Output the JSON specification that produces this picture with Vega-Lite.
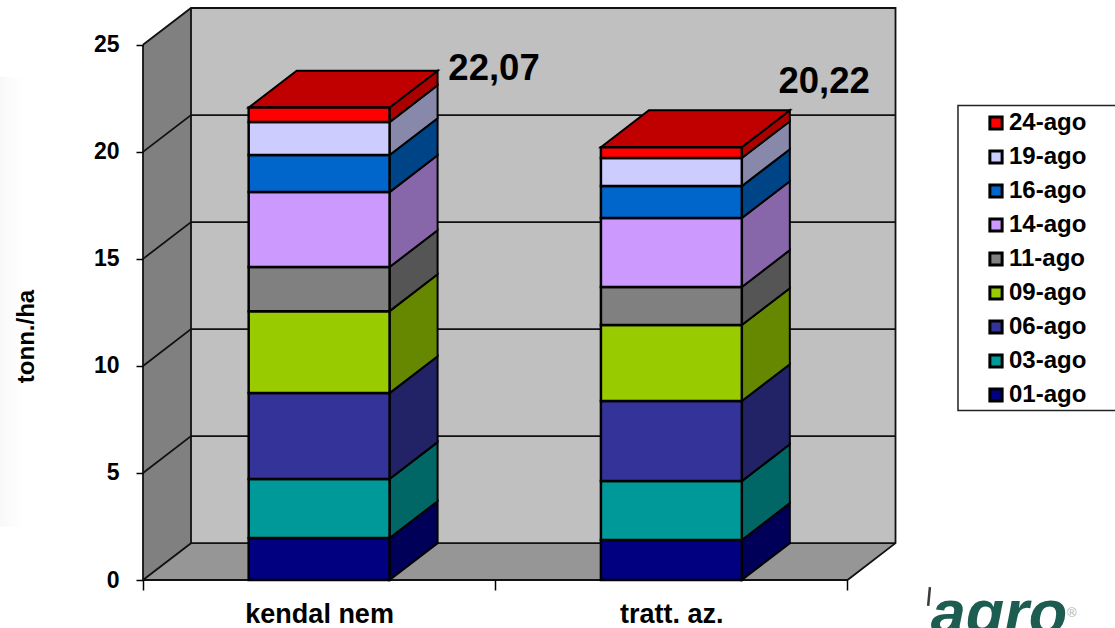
{
  "$schema": "https://vega.github.io/schema/vega-lite/v6.json",
  "width": 753,
  "height": 572,
  "autosize": "none",
  "padding": {"left": 143, "top": 8, "right": 219, "bottom": 48},
  "background": "white",
  "view": {"stroke": null},
  "config": {"font": "Liberation Sans"},
  "datasets": {
    "harvest": [
      {"variety": "kendal nem", "date": "01-ago", "tons": 1.96},
      {"variety": "kendal nem", "date": "03-ago", "tons": 2.76},
      {"variety": "kendal nem", "date": "06-ago", "tons": 4.01},
      {"variety": "kendal nem", "date": "09-ago", "tons": 3.83},
      {"variety": "kendal nem", "date": "11-ago", "tons": 2.06},
      {"variety": "kendal nem", "date": "14-ago", "tons": 3.5},
      {"variety": "kendal nem", "date": "16-ago", "tons": 1.73},
      {"variety": "kendal nem", "date": "19-ago", "tons": 1.54},
      {"variety": "kendal nem", "date": "24-ago", "tons": 0.68},
      {"variety": "tratt. az.", "date": "01-ago", "tons": 1.87},
      {"variety": "tratt. az.", "date": "03-ago", "tons": 2.75},
      {"variety": "tratt. az.", "date": "06-ago", "tons": 3.74},
      {"variety": "tratt. az.", "date": "09-ago", "tons": 3.55},
      {"variety": "tratt. az.", "date": "11-ago", "tons": 1.78},
      {"variety": "tratt. az.", "date": "14-ago", "tons": 3.22},
      {"variety": "tratt. az.", "date": "16-ago", "tons": 1.49},
      {"variety": "tratt. az.", "date": "19-ago", "tons": 1.31},
      {"variety": "tratt. az.", "date": "24-ago", "tons": 0.51}
    ],
    "walls": [
      {"face": "side", "x": 0, "y": 0, "y2": 25},
      {"face": "side", "x": 0.1363, "y": 1.72, "y2": 26.72},
      {"face": "floor", "x": 0, "y": 0, "y2": 0},
      {"face": "floor", "x": 0.1363, "y": 0, "y2": 1.72},
      {"face": "floor", "x": 2, "y": 0, "y2": 1.72},
      {"face": "floor", "x": 2.1363, "y": 1.72, "y2": 1.72},
      {"face": "back", "x": 0.1363, "y": 1.72, "y2": 26.72},
      {"face": "back", "x": 2.1363, "y": 1.72, "y2": 26.72}
    ],
    "edges": [
      {"path": "g5", "step": 1, "x": 0, "y": 5},
      {"path": "g5", "step": 2, "x": 0.1363, "y": 6.72},
      {"path": "g5", "step": 3, "x": 2.1363, "y": 6.72},
      {"path": "g10", "step": 1, "x": 0, "y": 10},
      {"path": "g10", "step": 2, "x": 0.1363, "y": 11.72},
      {"path": "g10", "step": 3, "x": 2.1363, "y": 11.72},
      {"path": "g15", "step": 1, "x": 0, "y": 15},
      {"path": "g15", "step": 2, "x": 0.1363, "y": 16.72},
      {"path": "g15", "step": 3, "x": 2.1363, "y": 16.72},
      {"path": "g20", "step": 1, "x": 0, "y": 20},
      {"path": "g20", "step": 2, "x": 0.1363, "y": 21.72},
      {"path": "g20", "step": 3, "x": 2.1363, "y": 21.72},
      {"path": "g25", "step": 1, "x": 0, "y": 25},
      {"path": "g25", "step": 2, "x": 0.1363, "y": 26.72},
      {"path": "g25", "step": 3, "x": 2.1363, "y": 26.72},
      {"path": "g25", "step": 4, "x": 2.1363, "y": 1.72},
      {"path": "g25", "step": 5, "x": 2, "y": 0},
      {"path": "g25", "step": 6, "x": 0, "y": 0},
      {"path": "g25", "step": 7, "x": 0, "y": 25},
      {"path": "inner", "step": 1, "x": 0, "y": 0},
      {"path": "inner", "step": 2, "x": 0.1363, "y": 1.72},
      {"path": "inner", "step": 3, "x": 2.1363, "y": 1.72},
      {"path": "corner", "step": 1, "x": 0.1363, "y": 1.72},
      {"path": "corner", "step": 2, "x": 0.1363, "y": 26.72}
    ]
  },
  "encoding": {
    "x": {
      "field": "x",
      "type": "quantitative",
      "title": null,
      "scale": {"domain": [0, 2.1377], "nice": false, "zero": false},
      "axis": {
        "values": [0, 0.5, 1, 1.5, 2],
        "domain": false,
        "grid": false,
        "zindex": 1,
        "tickSize": 10,
        "tickWidth": 1.5,
        "tickColor": "black",
        "tickOpacity": {"condition": {"test": "datum.value === 0.5 || datum.value === 1.5", "value": 0}, "value": 1},
        "labelExpr": "datum.value === 0.5 ? 'kendal nem' : datum.value === 1.5 ? 'tratt. az.' : ''",
        "labelFont": "Liberation Sans",
        "labelFontWeight": "bold",
        "labelFontSize": 27,
        "labelColor": "black",
        "labelPadding": 11,
        "labelOverlap": false,
        "labelFlush": false
      }
    },
    "y": {
      "field": "y",
      "type": "quantitative",
      "stack": false,
      "scale": {"domain": [0, 26.72], "nice": false, "zero": false},
      "axis": {
        "values": [0, 5, 10, 15, 20, 25],
        "domain": false,
        "grid": false,
        "zindex": 1,
        "tickSize": 7,
        "tickWidth": 1.5,
        "tickColor": "black",
        "labelFont": "Liberation Sans",
        "labelFontWeight": "bold",
        "labelFontSize": 23,
        "labelColor": "black",
        "labelPadding": 17,
        "title": "tonn./ha",
        "titleFont": "Liberation Sans",
        "titleFontWeight": "bold",
        "titleFontSize": 24,
        "titleColor": "black",
        "titleAngle": 270,
        "titleX": -105,
        "titleY": 328
      }
    }
  },
  "layer": [
    {
      "data": {"values": [{"x": -0.406, "x2": -0.34, "y": 2.5, "y2": 23.5}]},
      "mark": {
        "type": "rect",
        "fill": {
          "gradient": "linear",
          "x1": 0, "y1": 0, "x2": 1, "y2": 0,
          "stops": [{"offset": 0, "color": "#f8f8f8"}, {"offset": 1, "color": "#ffffff"}]
        }
      },
      "encoding": {"x2": {"field": "x2"}, "y2": {"field": "y2"}}
    },
    {
      "data": {"values": [{"x": 2.3137, "x2": 2.8, "y": 7.92, "y2": 22.16}]},
      "mark": {"type": "rect", "fill": "white", "stroke": "#222222", "strokeWidth": 1.5},
      "encoding": {"x2": {"field": "x2"}, "y2": {"field": "y2"}}
    },
    {
      "data": {"name": "walls"},
      "mark": {"type": "area", "stroke": null},
      "encoding": {
        "y2": {"field": "y2"},
        "color": {
          "field": "face",
          "type": "nominal",
          "legend": null,
          "scale": {"domain": ["side", "floor", "back"], "range": ["#808080", "#969696", "#c0c0c0"]}
        }
      }
    },
    {
      "data": {"name": "edges"},
      "mark": {"type": "line", "stroke": "#111111", "strokeWidth": 1.8},
      "encoding": {
        "detail": {"field": "path"},
        "order": {"field": "step"}
      }
    },
    {
      "data": {"name": "harvest"},
      "transform": [
        {"stack": "tons", "groupby": ["variety"], "sort": [{"field": "date", "order": "ascending"}], "as": ["low", "high"]},
        {"calculate": "datum.variety === 'kendal nem' ? 0.7 : 1.7", "as": "right"},
        {"calculate": "[datum.right, datum.right + 0.1363]", "as": "x"},
        {"calculate": "[datum.low, datum.low + 1.72]", "as": "y"},
        {"calculate": "[datum.high, datum.high + 1.72]", "as": "y2"},
        {"flatten": ["x", "y", "y2"]}
      ],
      "mark": {"type": "area", "stroke": "black", "strokeWidth": 2},
      "encoding": {
        "y2": {"field": "y2"},
        "detail": {"field": "variety"},
        "color": {
          "field": "date",
          "type": "nominal",
          "legend": null,
          "scale": {
            "domain": ["01-ago", "03-ago", "06-ago", "09-ago", "11-ago", "14-ago", "16-ago", "19-ago", "24-ago"],
            "range": ["#000058", "#006666", "#222266", "#668800", "#555555", "#8866aa", "#004488", "#8888aa", "#aa0000"]
          }
        }
      }
    },
    {
      "data": {"name": "harvest"},
      "transform": [
        {"joinaggregate": [{"op": "sum", "field": "tons", "as": "total"}], "groupby": ["variety"]},
        {"filter": "datum.date === '24-ago'"},
        {"calculate": "datum.variety === 'kendal nem' ? 0.3 : 1.3", "as": "left"},
        {"calculate": "[datum.left, datum.left + 0.1363, datum.left + 0.4, datum.left + 0.5363]", "as": "x"},
        {"calculate": "[datum.total, datum.total, datum.total, datum.total + 1.72]", "as": "y"},
        {"calculate": "[datum.total, datum.total + 1.72, datum.total + 1.72, datum.total + 1.72]", "as": "y2"},
        {"flatten": ["x", "y", "y2"]}
      ],
      "mark": {"type": "area", "fill": "#c00000", "stroke": "black", "strokeWidth": 2},
      "encoding": {
        "y2": {"field": "y2"},
        "detail": {"field": "variety"}
      }
    },
    {
      "data": {"name": "harvest"},
      "transform": [
        {"stack": "tons", "groupby": ["variety"], "sort": [{"field": "date", "order": "ascending"}], "as": ["y", "y2"]},
        {"calculate": "datum.variety === 'kendal nem' ? 0.3 : 1.3", "as": "x"},
        {"calculate": "datum.x + 0.4", "as": "x2"}
      ],
      "mark": {"type": "rect", "stroke": "black", "strokeWidth": 2.5},
      "encoding": {
        "x2": {"field": "x2"},
        "y2": {"field": "y2"},
        "color": {
          "field": "date",
          "type": "nominal",
          "scale": {
            "domain": ["24-ago", "19-ago", "16-ago", "14-ago", "11-ago", "09-ago", "06-ago", "03-ago", "01-ago"],
            "range": ["#ff0000", "#ccccff", "#0066cc", "#cc99ff", "#808080", "#99cc00", "#333399", "#009999", "#000080"]
          },
          "legend": {
            "title": null,
            "orient": "none",
            "legendX": 815,
            "legendY": 98,
            "padding": 0,
            "symbolType": "square",
            "symbolSize": 150,
            "symbolStrokeColor": "black",
            "symbolStrokeWidth": 3,
            "symbolOffset": 26,
            "labelOffset": 1,
            "labelFont": "Liberation Sans",
            "labelFontWeight": "bold",
            "labelFontSize": 24,
            "labelColor": "black",
            "clipHeight": 34,
            "rowPadding": 0
          }
        }
      }
    },
    {
      "data": {
        "values": [
          {"variety": "kendal nem", "label": "22,07", "x": 0.9965, "y": 23.87},
          {"variety": "tratt. az.", "label": "20,22", "x": 1.9335, "y": 23.26}
        ]
      },
      "mark": {"type": "text", "font": "Liberation Sans", "fontWeight": "bold", "fontSize": 36.5, "align": "center", "baseline": "middle", "color": "black"},
      "encoding": {"text": {"field": "label"}}
    },
    {
      "data": {"values": [{"x": 2.234, "y": -0.33}, {"x": 2.229, "y": -1.21}]},
      "mark": {"type": "line", "stroke": "#3a3a3a", "strokeWidth": 2.5},
      "encoding": {}
    },
    {
      "data": {"values": [{"brand": "agro", "x": 2.43, "y": -2.52}]},
      "mark": {"type": "text", "font": "Liberation Sans", "fontWeight": "bold", "fontStyle": "italic", "fontSize": 63, "align": "center", "baseline": "alphabetic", "color": "#1d5c50"},
      "encoding": {"text": {"field": "brand"}}
    },
    {
      "data": {"values": [{"symbol": "®", "x": 2.637, "y": -1.55}]},
      "mark": {"type": "text", "font": "Liberation Sans", "fontSize": 13, "align": "center", "baseline": "middle", "color": "#a9b4b0"},
      "encoding": {"text": {"field": "symbol"}}
    }
  ],
  "resolve": {"scale": {"color": "independent"}}
}
